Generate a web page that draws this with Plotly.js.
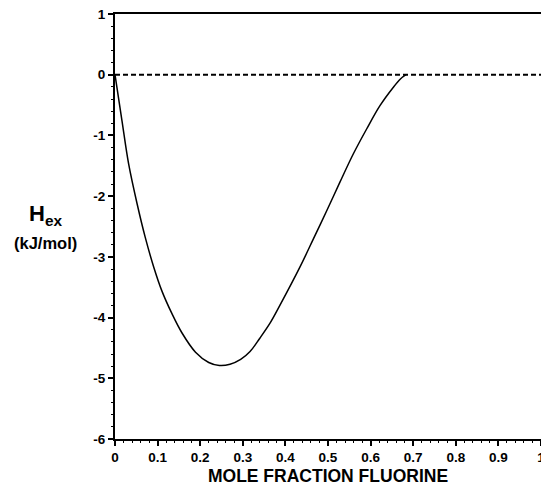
<!DOCTYPE html>
<html>
<head>
<meta charset="utf-8">
<script src="https://cdn.plot.ly/plotly-3.0.1.min.js"></script>
<style>html,body{margin:0;padding:0;background:#fff;}#chart{width:541px;height:492px;}</style>
</head>
<body>
<div id="chart"></div>
<script>
// Mole fraction of fluorine
const moleFraction = [0, 0.0164, 0.032, 0.052, 0.071, 0.091, 0.110, 0.134, 0.157, 0.189, 0.220, 0.245, 0.270, 0.295, 0.317, 0.340, 0.365, 0.387, 0.434, 0.466, 0.497, 0.528, 0.559, 0.591, 0.622, 0.653, 0.670, 0.683];
// Excess enthalpy (kJ/mol)
const hex = [0, -0.76, -1.47, -2.13, -2.68, -3.17, -3.56, -3.94, -4.25, -4.57, -4.74, -4.79, -4.77, -4.69, -4.56, -4.34, -4.08, -3.80, -3.17, -2.70, -2.24, -1.77, -1.31, -0.89, -0.51, -0.21, -0.07, 0];
// Zero reference line
const zeroX = [0, 1];
const zeroY = [0, 0];
// Tick labels
const xTickVals = [0, 0.1, 0.2, 0.3, 0.4, 0.5, 0.6, 0.7, 0.8, 0.9, 1];
const xTickText = ["0", "0.1", "0.2", "0.3", "0.4", "0.5", "0.6", "0.7", "0.8", "0.9", "1"];
const yTickVals = [1, 0, -1, -2, -3, -4, -5, -6];
const yTickText = ["1", "0", "-1", "-2", "-3", "-4", "-5", "-6"];

const font = "Arial, 'Liberation Sans', sans-serif";
const tickFont = {family: font, size: 13.5, weight: 'bold', color: '#000'};

const traces = [
  {x: moleFraction, y: hex, mode: 'lines', line: {color: '#000', width: 1.5, shape: 'spline', smoothing: 1}, showlegend: false},
  {x: zeroX, y: zeroY, xaxis: 'x2', yaxis: 'y2', mode: 'lines', line: {color: '#000', width: 2, dash: '5px,3px'}, hoverinfo: 'skip', showlegend: false}
];

const layout = {
  width: 541, height: 492,
  margin: {l: 115, r: 0, t: 14, b: 53},
  paper_bgcolor: '#fff', plot_bgcolor: '#fff',
  font: {family: font, color: '#000'},
  showlegend: false,
  xaxis: {
    range: [0, 1], showgrid: false, zeroline: false,
    showline: true, linecolor: '#000', linewidth: 2, mirror: true,
    ticks: 'outside', ticklen: 5, tickwidth: 2, tickcolor: '#000',
    tickmode: 'array', tickvals: xTickVals, ticktext: xTickText,
    ticklabeloverflow: 'allow',
    tickfont: tickFont,
    title: {text: 'MOLE FRACTION FLUORINE', font: {family: font, size: 17.5, weight: 'bold'}, standoff: 6}
  },
  yaxis: {
    range: [-6, 1], showgrid: false, zeroline: false,
    showline: true, linecolor: '#000', linewidth: 2,
    ticks: 'outside', ticklen: 5, tickwidth: 2, tickcolor: '#000',
    tickmode: 'array', tickvals: yTickVals, ticktext: yTickText,
    ticklabeloverflow: 'allow',
    tickfont: tickFont
  },
  xaxis2: {
    overlaying: 'x', anchor: 'y2', side: 'bottom', range: [0, 1],
    showgrid: false, zeroline: false, showline: false, showticklabels: false,
    ticks: 'outside', ticklen: 3, tickwidth: 1, tickcolor: '#000', dtick: 0.02, tick0: 0
  },
  yaxis2: {
    overlaying: 'y', anchor: 'x2', side: 'left', range: [-6, 1],
    showgrid: false, zeroline: false, showline: false, showticklabels: false,
    ticks: 'outside', ticklen: 3, tickwidth: 1, tickcolor: '#000', dtick: 0.2, tick0: 0
  },
  annotations: [
    {xref: 'paper', yref: 'paper', x: -0.164, y: 0.527, text: 'H<sub>ex</sub>', showarrow: false, font: {family: font, size: 22, weight: 'bold'}, xanchor: 'center', yanchor: 'middle'},
    {xref: 'paper', yref: 'paper', x: -0.164, y: 0.461, text: '(kJ/mol)', showarrow: false, font: {family: font, size: 16.5, weight: 'bold'}, xanchor: 'center', yanchor: 'middle'}
  ]
};

Plotly.newPlot('chart', traces, layout, {displayModeBar: false, staticPlot: true});
</script>
</body>
</html>
